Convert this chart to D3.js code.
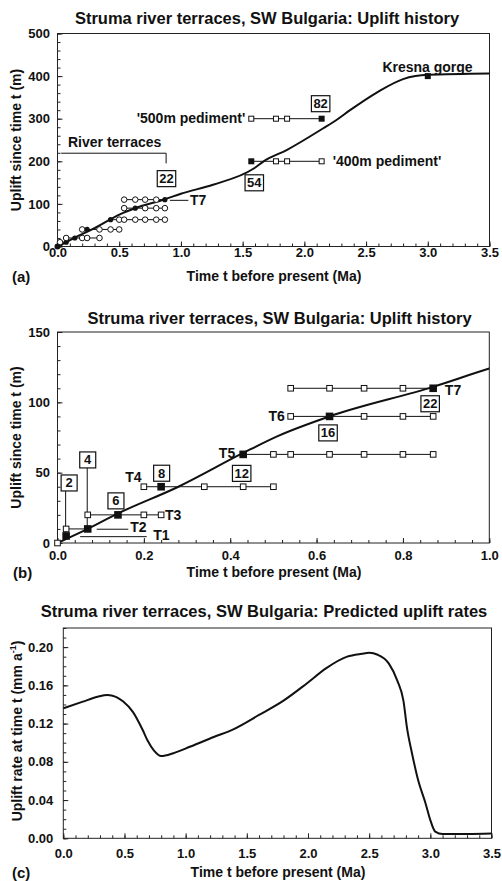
<!DOCTYPE html>
<html>
<head>
<meta charset="utf-8">
<script src="https://cdn.jsdelivr.net/npm/d3@7"></script>
<style>
  body { margin: 0; background: #fff; }
  svg text { font-family: "Liberation Sans", Arial, sans-serif; font-weight: bold; fill: #111; }
</style>
</head>
<body>
<div id="chart"></div>
<script>
// model uplift curve (m) against time before present (Ma)
const modelTime   = [0, 0.07, 0.14, 0.28, 0.43, 0.51, 0.63, 0.87, 1.0, 1.26, 1.59, 1.67, 1.86, 2.15, 2.26, 2.37, 2.59, 2.8, 2.9, 3.0, 3.5];
const modelUplift = [0, 10, 21, 40, 64, 76, 90, 111, 124, 145, 183, 200, 227, 277, 297, 320, 362, 393, 400, 403, 406];

// predicted uplift rate (mm/a)
const rateTime = [0, 0.16, 0.28, 0.36, 0.43, 0.49, 0.57, 0.65, 0.69, 0.74, 0.8, 0.9, 1.04, 1.23, 1.39, 1.6, 1.8, 1.99, 2.15, 2.32, 2.44, 2.5, 2.57, 2.66, 2.73, 2.78, 2.81, 2.85, 2.9, 2.96, 3.0, 3.04, 3.1, 3.3, 3.5];
const rateValue = [0.136, 0.143, 0.148, 0.150, 0.148, 0.143, 0.132, 0.113, 0.102, 0.092, 0.086, 0.089, 0.096, 0.106, 0.114, 0.129, 0.144, 0.162, 0.178, 0.19, 0.193, 0.194, 0.192, 0.183, 0.165, 0.144, 0.115, 0.089, 0.061, 0.037, 0.019, 0.007, 0.0045, 0.0045, 0.005];

// river terraces
const terraceNames  = ['T1', 'T2', 'T3', 'T4', 'T5', 'T6', 'T7'];
const terraceUplift = [5, 10, 20, 40, 63, 90, 110];
const terraceAge    = [0.02, 0.07, 0.14, 0.24, 0.43, 0.63, 0.87];
const terraceStage  = [2, 4, 6, 8, 12, 16, 22];
const altAgesA = [[], [0.02], [0.07, 0.20, 0.24, 0.34], [0.20, 0.34, 0.43, 0.50], [0.50, 0.54, 0.63, 0.71, 0.80, 0.87], [0.54, 0.71, 0.80, 0.87], [0.54, 0.63, 0.71, 0.80]];
const altAgesB = [[], [0.02], [0.07, 0.20, 0.24], [0.20, 0.34, 0.43, 0.50], [0.50, 0.54, 0.63, 0.71, 0.80, 0.87], [0.54, 0.71, 0.80, 0.87], [0.54, 0.63, 0.71, 0.80]];

// pediments and gorge
const pedimentNames  = ["'500m pediment'", "'400m pediment'"];
const pedimentUplift = [300, 200];
const pedimentAge    = [2.14, 1.57];
const pedimentAlt    = [[1.57, 1.77, 1.86], [1.77, 1.86, 2.14]];
const pedimentStage  = [82, 54];
const gorgeAge = 3.0, gorgeUplift = 400;

const xTicks35 = [0, 0.5, 1, 1.5, 2, 2.5, 3, 3.5];
const yTicksA = [0, 100, 200, 300, 400, 500];
const xTicksB = [0, 0.2, 0.4, 0.6, 0.8, 1.0];
const yTicksB = [0, 50, 100, 150];
const yTicksC = [0, 0.04, 0.08, 0.12, 0.16, 0.20];

const title1 = 'Struma river terraces, SW Bulgaria: Uplift history';
const title3 = 'Struma river terraces, SW Bulgaria: Predicted uplift rates';
const xTitle = 'Time t before present (Ma)';

const svg = d3.select('#chart').append('svg')
	.attr('width', 502)
	.attr('height', 881);

const xA = d3.scaleLinear().domain([0, 3.5]).range([57.5, 489.5]);
const yA = d3.scaleLinear().domain([0, 500]).range([246.5, 33.5]);
const xB = d3.scaleLinear().domain([0, 1]).range([57.5, 489.3]);
const yB = d3.scaleLinear().domain([0, 150]).range([543, 332]);
const xC = d3.scaleLinear().domain([0, 3.5]).range([63.3, 491.5]);
const yC = d3.scaleLinear().domain([0, 0.22]).range([838.3, 628]);

const drawAxes = (x, y, o) => {
	const g = svg.append('g');
	const [x0, x1] = x.range(), [y0, y1] = y.range();
	const style = s => {
		s.select('.domain').remove();
		s.selectAll('line').attr('stroke', '#222');
		s.selectAll('text').attr('font-size', 13).attr('font-family', null).style('fill', '#111');
	};
	g.append('g').attr('transform', `translate(0,${y0})`)
		.call(d3.axisBottom(x).tickValues(o.xMinor).tickSize(-3).tickFormat(''))
		.call(style);
	g.append('g').attr('transform', `translate(0,${y0})`)
		.call(d3.axisBottom(x).tickValues(o.xTicks).tickSize(-5).tickPadding(o.xPad).tickFormat(o.xFmt))
		.call(style);
	g.append('g').attr('transform', `translate(${x0},0)`)
		.call(d3.axisLeft(y).tickValues(o.yMinor).tickSize(-3).tickFormat(''))
		.call(style);
	g.append('g').attr('transform', `translate(${x0},0)`)
		.call(d3.axisLeft(y).tickValues(o.yTicks).tickSize(-5).tickPadding(o.yPad).tickFormat(o.yFmt))
		.call(style);
	g.append('rect')
		.attr('x', x0).attr('y', y1)
		.attr('width', x1 - x0).attr('height', y0 - y1)
		.attr('fill', 'none').attr('stroke', '#222').attr('stroke-width', 1);
	return g;
}

const rng = (a, b, s) => d3.range(Math.round(a / s), Math.round(b / s) + 1).map(i => +(i * s).toFixed(4));

const boxNum = (g, cx, cy, n) => {
	const t = g.append('text').attr('x', cx).attr('y', cy + 4.5)
		.attr('text-anchor', 'middle').attr('font-size', 13).text(n);
	const w = Math.max(16, t.node().getComputedTextLength() + 4);
	g.insert('rect', 'text').attr('x', cx - w / 2).attr('y', cy - 8).attr('width', w).attr('height', 16)
		.attr('fill', '#fff').attr('stroke', '#111').attr('stroke-width', 1.2);
}

const label = (x, y, txt, size, anchor, weight) => svg.append('text')
	.attr('x', x).attr('y', y).attr('font-size', size)
	.attr('text-anchor', anchor || 'start')
	.attr('font-weight', weight || 'bold')
	.text(txt);

const yTitle = (cx, cy, txt) => svg.append('text')
	.attr('transform', `translate(${cx},${cy}) rotate(-90)`)
	.attr('text-anchor', 'middle').attr('font-size', 14).text(txt);

// ---------- panel (a)
label(267, 23.5, title1, 16.5, 'middle');
drawAxes(xA, yA, {
	xTicks: xTicks35, xMinor: rng(0, 3.5, 0.1), xPad: 1, xFmt: d3.format('.1f'),
	yTicks: yTicksA, yMinor: rng(0, 500, 20), yPad: 7.5, yFmt: d3.format('d')
});
const gA = svg.append('g');
const line = d3.line().curve(d3.curveMonotoneX);

gA.append('path')
	.attr('d', line(modelTime.map((t, i) => [xA(t), yA(modelUplift[i])])))
	.attr('fill', 'none').attr('stroke', '#111').attr('stroke-width', 2);

terraceUplift.forEach((u, i) => {
	const ages = altAgesA[i].concat([terraceAge[i]]);
	const ext = d3.extent(ages);
	if (ext[0] < ext[1]) {
		gA.append('line').attr('x1', xA(ext[0])).attr('x2', xA(ext[1]))
			.attr('y1', yA(u)).attr('y2', yA(u)).attr('stroke', '#111').attr('stroke-width', 1);
	}
	gA.selectAll(null).data(altAgesA[i]).join('circle')
		.attr('cx', d => xA(d)).attr('cy', yA(u)).attr('r', 2.8)
		.attr('fill', '#fff').attr('stroke', '#111').attr('stroke-width', 1);
	gA.append('circle').attr('cx', xA(terraceAge[i])).attr('cy', yA(u)).attr('r', 2.6).attr('fill', '#111');
});
gA.append('circle').attr('cx', xA(0)).attr('cy', yA(0)).attr('r', 3).attr('fill', '#111');

// pediment rows
pedimentUplift.forEach((u, i) => {
	const ages = pedimentAlt[i].concat([pedimentAge[i]]);
	const ext = d3.extent(ages);
	gA.append('line').attr('x1', xA(ext[0])).attr('x2', xA(ext[1]))
		.attr('y1', yA(u)).attr('y2', yA(u)).attr('stroke', '#111').attr('stroke-width', 1);
	gA.selectAll(null).data(pedimentAlt[i]).join('rect')
		.attr('x', d => xA(d) - 2.5).attr('y', yA(u) - 2.5).attr('width', 5).attr('height', 5)
		.attr('fill', '#fff').attr('stroke', '#111').attr('stroke-width', 1);
	gA.append('rect').attr('x', xA(pedimentAge[i]) - 3).attr('y', yA(u) - 3)
		.attr('width', 6).attr('height', 6).attr('fill', '#111');
});
gA.append('rect').attr('x', xA(gorgeAge) - 3).attr('y', yA(gorgeUplift) - 3)
	.attr('width', 6).attr('height', 6).attr('fill', '#111');

label(427.5, 72, 'Kresna gorge', 14, 'middle');
label(xA(pedimentAlt[0][0]) - 6, yA(pedimentUplift[0]) + 4.5, pedimentNames[0], 14, 'end');
label(xA(pedimentAlt[1][2]) + 11, yA(pedimentUplift[1]) + 4.5, pedimentNames[1], 14, 'start');
boxNum(gA, xA(pedimentAge[0]) - 1, yA(pedimentUplift[0]) - 15, pedimentStage[0]);
boxNum(gA, xA(pedimentAge[1]) + 3, yA(pedimentUplift[1]) + 21.5, pedimentStage[1]);

// river terraces bracket
label(68, 147, 'River terraces', 14, 'start');
gA.append('path')
	.attr('d', `M${xA(0.03)},${yA(219)}H${xA(0.88)}V${yA(195)}`)
	.attr('fill', 'none').attr('stroke', '#111').attr('stroke-width', 1);
{
	const px = xA(terraceAge[6]), py = yA(terraceUplift[6]);
	boxNum(gA, px + 1.6, py - 21, terraceStage[6]);
	gA.append('line').attr('x1', px + 5).attr('x2', px + 23.5).attr('y1', py + 0.7).attr('y2', py + 0.7)
		.attr('stroke', '#111').attr('stroke-width', 1);
	label(px + 25, py + 5.7, terraceNames[6], 14, 'start');
}
label(274, 281, xTitle, 14, 'middle');
label(12, 282, '(a)', 15, 'start', 'normal');
yTitle(20.5, 140, 'Uplift since time t (m)');

// ---------- panel (b)
label(279.5, 323.5, title1, 16.5, 'middle');
drawAxes(xB, yB, {
	xTicks: xTicksB, xMinor: rng(0, 1, 0.04), xPad: 8, xFmt: d3.format('.1f'),
	yTicks: yTicksB, yMinor: rng(0, 150, 10), yPad: 7.5, yFmt: d3.format('d')
});
const gB = svg.append('g');
svg.append('clipPath').attr('id', 'clipB').append('rect')
	.attr('x', 57.5).attr('y', 332).attr('width', 431.8).attr('height', 211);
gB.append('path')
	.attr('clip-path', 'url(#clipB)')
	.attr('d', line(modelTime.map((t, i) => [xB(t), yB(modelUplift[i])])))
	.attr('fill', 'none').attr('stroke', '#111').attr('stroke-width', 2);

// box offsets (px) from each terrace point, T label offsets
const boxOffB = [[3, -53], [0, -69], [-2, -14], [0.5, -13.5], [-1.5, 19], [-1.5, 16.5], [-3, 15.5]];
const lblOffB = [[87, 4], [42.5, 3], [47, 5], [-19.5, -4.7], [-8, 3.6], [-44.7, 4.6], [11.7, 6.7]];
const lblAnchorB = ['start', 'start', 'start', 'end', 'end', 'end', 'start'];
const leaderB = [[14, 80.6, 0.7], [9, 40.6, 0.3], null, null, null, null, null];

terraceUplift.forEach((u, i) => {
	const ages = altAgesB[i].concat([terraceAge[i]]);
	const ext = d3.extent(ages);
	const px = xB(terraceAge[i]), py = yB(u);
	if (ext[0] < ext[1]) {
		gB.append('line').attr('x1', xB(ext[0])).attr('x2', xB(ext[1]))
			.attr('y1', py).attr('y2', py).attr('stroke', '#111').attr('stroke-width', 1);
	}
	const bx = px + boxOffB[i][0], by = py + boxOffB[i][1];
	if (i < 2) {
		gB.append('line').attr('x1', px - 0.5).attr('x2', px - 0.5).attr('y1', by + 8).attr('y2', py)
			.attr('stroke', '#111').attr('stroke-width', 1);
	}
	gB.selectAll(null).data(altAgesB[i]).join('rect')
		.attr('x', d => xB(d) - 2.8).attr('y', py - 2.8).attr('width', 5.6).attr('height', 5.6)
		.attr('fill', '#fff').attr('stroke', '#111').attr('stroke-width', 1);
	gB.append('rect').attr('x', px - 3.8).attr('y', py - 3.8).attr('width', 7.6).attr('height', 7.6).attr('fill', '#111');
	boxNum(gB, bx, by, terraceStage[i]);
	if (leaderB[i]) {
		gB.append('line').attr('x1', px + leaderB[i][0]).attr('x2', px + leaderB[i][1])
			.attr('y1', py + leaderB[i][2]).attr('y2', py + leaderB[i][2])
			.attr('stroke', '#111').attr('stroke-width', 1);
	}
	label(px + lblOffB[i][0], py + lblOffB[i][1], terraceNames[i], 14, lblAnchorB[i]);
});
gB.append('rect').attr('x', xB(0) - 2.8).attr('y', yB(0) - 2.8).attr('width', 5.6).attr('height', 5.6)
	.attr('fill', '#fff').attr('stroke', '#111').attr('stroke-width', 1);

label(274, 577, xTitle, 14, 'middle');
label(13, 578, '(b)', 15, 'start', 'normal');
yTitle(20.5, 437.5, 'Uplift since time t (m)');

// ---------- panel (c)
label(264, 617, title3, 16.5, 'middle');
drawAxes(xC, yC, {
	xTicks: xTicks35, xMinor: rng(0, 3.5, 0.1), xPad: 10.5, xFmt: d3.format('.1f'),
	yTicks: yTicksC, yMinor: rng(0, 0.22, 0.01), yPad: 10, yFmt: d3.format('.2f')
});
svg.append('path')
	.attr('d', line(rateTime.map((t, i) => [xC(t), yC(rateValue[i])])))
	.attr('fill', 'none').attr('stroke', '#111').attr('stroke-width', 2);

label(278, 877, xTitle, 14, 'middle');
label(12, 878, '(c)', 15, 'start', 'normal');
{
	const t = svg.append('text')
		.attr('transform', 'translate(21.5,731) rotate(-90)')
		.attr('text-anchor', 'middle').attr('font-size', 14);
	t.append('tspan').text('Uplift rate at time t (mm a');
	t.append('tspan').attr('font-size', 9).attr('dy', -6).text('-1');
	t.append('tspan').attr('dy', 6).text(')');
}
</script>
</body>
</html>
